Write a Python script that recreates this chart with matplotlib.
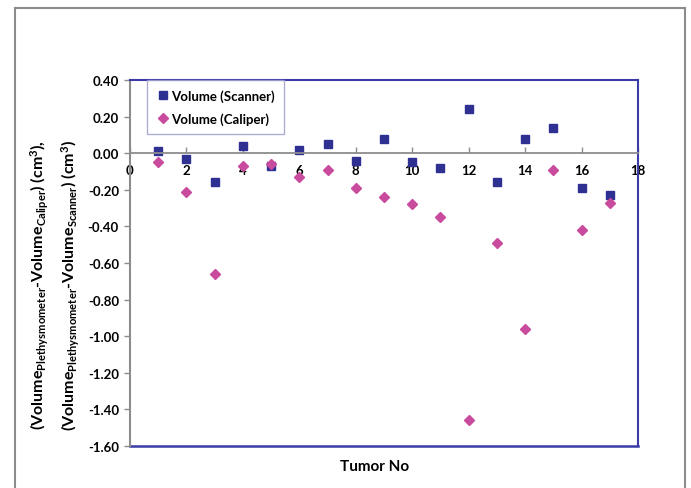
import matplotlib
matplotlib.use("Agg")
import matplotlib.pyplot as plt
from matplotlib.lines import Line2D

plt.rcParams['font.family'] = ['Lato', 'DejaVu Sans']
plt.rcParams['mathtext.default'] = 'regular'

# donnees
tumor = list(range(1, 18))
scanner = [0.01, -0.03, -0.16, 0.04, -0.07, 0.02, 0.05, -0.04, 0.08,
           -0.05, -0.08, 0.24, -0.16, 0.08, 0.14, -0.19, -0.23]
caliper = [-0.05, -0.21, -0.66, -0.07, -0.06, -0.13, -0.09, -0.19, -0.24,
           -0.28, -0.35, -1.46, -0.49, -0.96, -0.09, -0.42, -0.27]
xticks = list(range(0, 19, 2))
yticks = [0.40, 0.20, 0.00, -0.20, -0.40, -0.60, -0.80, -1.00, -1.20, -1.40, -1.60]

W, H = 691, 489
GREY = "#8c8c8c"
BLUE = "#3b3ba8"
C_SCAN = "#2e3192"
C_CAL = "#c84b9e"

fig = plt.figure(figsize=(W/100, H/100), dpi=100)
ax = fig.add_axes([130/W, 1-447/H, (638-130)/W, (447-81)/H])

ax.plot(tumor, scanner, ls="none", marker="s", ms=5.6, color=C_SCAN,
        label="Volume (Scanner)")
ax.plot(tumor, caliper, ls="none", marker="D", ms=5.0, color=C_CAL,
        label="Volume (Caliper)")

ax.set_xlim(0, 18)
ax.set_ylim(-1.6, 0.4)
ax.set_xticks(xticks)
ax.set_yticks(yticks)
ax.set_yticklabels([f"{v:.2f}" for v in yticks])

# axe x croise en 0
ax.spines['bottom'].set_position(('data', 0))
ax.spines['bottom'].set_color(GREY)
ax.spines['bottom'].set_linewidth(1.3)
ax.spines['left'].set_color(GREY)
ax.spines['left'].set_linewidth(1.5)
for s in ('top', 'right'):
    ax.spines[s].set_color(BLUE)
    ax.spines[s].set_linewidth(1.5)
ax.add_line(Line2D([0, 18], [-1.6, -1.6], color=BLUE, lw=1.8, clip_on=False))

ax.tick_params(axis='x', direction='in', length=4, width=1, color=GREY,
               pad=8, labelsize=9.5)
ax.tick_params(axis='y', direction='out', length=4, width=1, color=GREY,
               pad=4, labelsize=9.5)
for lab in ax.get_xticklabels() + ax.get_yticklabels():
    lab.set_fontweight('bold')

leg = ax.legend(loc='upper left', bbox_to_anchor=(17/508, 1.0), frameon=True,
                fancybox=False, handletextpad=0.1, borderaxespad=0,
                handlelength=1.0, borderpad=0.7, labelspacing=0.8,
                prop={'weight': 'bold', 'size': 9.5})
leg.get_frame().set_edgecolor("#9a9ac8")
leg.get_frame().set_linewidth(1.0)

fig.text(375/W, 1-467/H, "Tumor No", ha='center', va='center',
         fontsize=11, fontweight='bold')
fig.text(40/W, 1-285/H,
         r"(Volume$_{Plethysmometer}$-Volume$_{Caliper}$) (cm$^{3}$),",
         rotation=90, ha='center', va='center', fontsize=11.5, fontweight='bold')
fig.text(71/W, 1-285/H,
         r"(Volume$_{Plethysmometer}$-Volume$_{Scanner}$) (cm$^{3}$)",
         rotation=90, ha='center', va='center', fontsize=11.5, fontweight='bold')

# cadre exterieur (gauche, haut, droite)
fr = dict(color=GREY, lw=1.5, transform=fig.transFigure)
fig.add_artist(Line2D([15/W, 15/W], [0, 1-9/H], **fr))
fig.add_artist(Line2D([15/W, 685/W], [1-9/H, 1-9/H], **fr))
fig.add_artist(Line2D([685/W, 685/W], [0, 1-9/H], **fr))

fig.savefig("out.png", dpi=100)
